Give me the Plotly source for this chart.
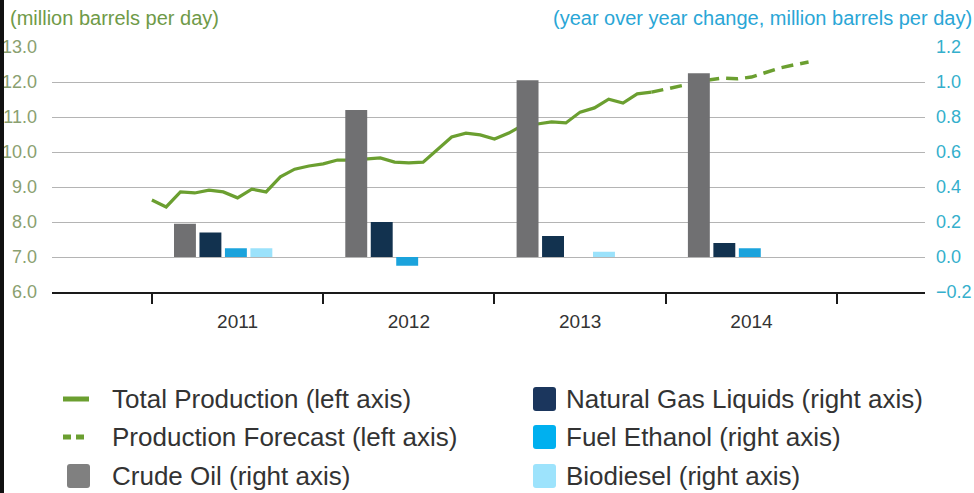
import plotly.graph_objects as go

# total production, million barrels per day (left axis), monthly Jan 2011 .. Dec 2013
production = [8.63, 8.43, 8.86, 8.83, 8.91, 8.86, 8.69, 8.94, 8.86, 9.29, 9.51, 9.60,
              9.66, 9.77, 9.77, 9.80, 9.83, 9.71, 9.69, 9.71, 10.06, 10.43, 10.54, 10.49,
              10.37, 10.54, 10.77, 10.80, 10.86, 10.83, 11.14, 11.26, 11.51, 11.40, 11.66, 11.71]
# forecast, Dec 2013 .. Nov 2014
forecast = [11.71, 11.80, 11.89, 11.97, 12.06, 12.11, 12.09, 12.14, 12.26, 12.40, 12.49, 12.57]

# year over year change, million barrels per day (right axis)
years = [2011, 2012, 2013, 2014]
crude_oil = [0.19, 0.84, 1.01, 1.05]
natural_gas_liquids = [0.14, 0.20, 0.12, 0.08]
fuel_ethanol = [0.05, -0.05, 0.0, 0.05]
biodiesel = [0.05, 0.0, 0.03, 0.0]

GREEN = '#6b9f30'
FONT = 'Liberation Sans, Arial, sans-serif'

# plot area in pixels, used to place the hand-made legend
L, R, T, B = 52, 925, 47, 292


def px(x):
    return (x - L) / (R - L)


def py(y):
    return (B - y) / (B - T)


def rounded_square(x0, y0, x1, y1, r=3):
    a, b, c, d = px(x0), px(x1), py(y0), py(y1)
    rx, ry = r / (R - L), r / (B - T)
    return (f'M {a + rx},{c} L {b - rx},{c} Q {b},{c} {b},{c - ry} '
            f'L {b},{d + ry} Q {b},{d} {b - rx},{d} L {a + rx},{d} '
            f'Q {a},{d} {a},{d + ry} L {a},{c - ry} Q {a},{c} {a + rx},{c} Z')


figure = go.Figure()

figure.add_trace(go.Scatter(
    x=[2011 + m / 12 for m in range(len(production))], y=production,
    mode='lines', line=dict(color=GREEN, width=3.2), name='Total Production (left axis)'))
figure.add_trace(go.Scatter(
    x=[2011 + (len(production) - 1 + m) / 12 for m in range(len(forecast))], y=forecast,
    mode='lines', line=dict(color=GREEN, width=3.5, dash='12px,7px'),
    name='Production Forecast (left axis)'))

bar_series = [
    ('Crude Oil (right axis)', crude_oil, '#707072'),
    ('Natural Gas Liquids (right axis)', natural_gas_liquids, '#12324f'),
    ('Fuel Ethanol (right axis)', fuel_ethanol, '#1ba3dc'),
    ('Biodiesel (right axis)', biodiesel, '#9be2fb'),
]
for k, (name, values, color) in enumerate(bar_series):
    figure.add_trace(go.Bar(
        x=[yr + 0.193 + k * 0.1487 for yr in years], y=values, width=0.128,
        marker=dict(color=color, line_width=0), name=name, yaxis='y2'))

figure.update_layout(
    width=974, height=493, autosize=False,
    margin=dict(l=L, r=974 - R, t=T, b=493 - B),
    paper_bgcolor='white', plot_bgcolor='white',
    showlegend=False, barmode='overlay',
    font=dict(family=FONT, color='#333333'),
    xaxis=dict(
        range=[2011 - 100 / 171.5, 2015 + 88 / 171.5], automargin=False,
        tickvals=[yr + 0.5 for yr in years], ticktext=[str(yr) for yr in years],
        ticks='', ticklabelstandoff=11, tickfont=dict(size=19, color='#333333'),
        showgrid=False, zeroline=False,
        showline=True, linecolor='#1a1a1a', linewidth=2,
        minor=dict(tickmode='array', tickvals=[2011, 2012, 2013, 2014, 2015],
                   ticks='outside', ticklen=10, tickwidth=1.5, tickcolor='#1a1a1a',
                   showgrid=False),
    ),
    yaxis=dict(
        range=[6, 13], dtick=1, tickformat='.1f', automargin=False,
        tickfont=dict(size=18, color='#8aa070'),
        showgrid=True, gridcolor='#b4b4b4', gridwidth=1.2, zeroline=False,
        ticks='', ticklabelstandoff=14,
    ),
    yaxis2=dict(
        range=[-0.2, 1.2], dtick=0.2, tickformat='.1f', overlaying='y', side='right',
        automargin=False, tickfont=dict(size=18, color='#34afcc'),
        showgrid=False, zeroline=False, ticks='', ticklabelstandoff=10,
    ),
)

annotations = [
    dict(text='(million barrels per day)', x=px(8), y=py(18), xanchor='left',
         font=dict(size=20, color='#6f9a48')),
    dict(text='(year over year change, million barrels per day)', x=px(974), y=py(18),
         xanchor='right', font=dict(size=20, color='#2aa6d6')),
]
shapes = [
    dict(type='rect', x0=px(0), x1=px(4), y0=py(0), y1=py(493),
         fillcolor='#111111', line_width=0),
    dict(type='line', x0=px(63), x1=px(89), y0=py(399), y1=py(399),
         line=dict(color=GREEN, width=5)),
    dict(type='line', x0=px(63), x1=px(89), y0=py(437), y1=py(437),
         line=dict(color=GREEN, width=5, dash='8px,5px')),
]

# (text x, symbol x, row y, label, swatch colour)
legend_items = [
    (110, 67, 399, 'Total Production (left axis)', None),
    (110, 67, 437, 'Production Forecast (left axis)', None),
    (110, 67, 476, 'Crude Oil (right axis)', '#808080'),
    (564, 533, 399, 'Natural Gas Liquids (right axis)', '#1b365d'),
    (564, 533, 437, 'Fuel Ethanol (right axis)', '#00b0ef'),
    (564, 533, 476, 'Biodiesel (right axis)', '#9de3fc'),
]
for x, sx, y, text, color in legend_items:
    annotations.append(dict(text=text, x=px(x), y=py(y), xanchor='left',
                            font=dict(size=26, color='#333333')))
    if color:
        shapes.append(dict(type='path', path=rounded_square(sx, y - 12, sx + 23, y + 12),
                           fillcolor=color, line_width=0))

for a in annotations:
    a.update(xref='paper', yref='paper', yanchor='middle', showarrow=False)
for s in shapes:
    s.update(xref='paper', yref='paper')

figure.update_layout(annotations=annotations, shapes=shapes)

# page margin and scrollbars off, so the 974x493 figure fills the window exactly
page_fix = ("for (const el of [document.documentElement, document.body]) {"
            " el.style.margin = '0'; el.style.padding = '0'; el.style.overflow = 'hidden'; }")
figure.write_html('out.html', post_script=page_fix,
                  config={'displayModeBar': False, 'responsive': False})
